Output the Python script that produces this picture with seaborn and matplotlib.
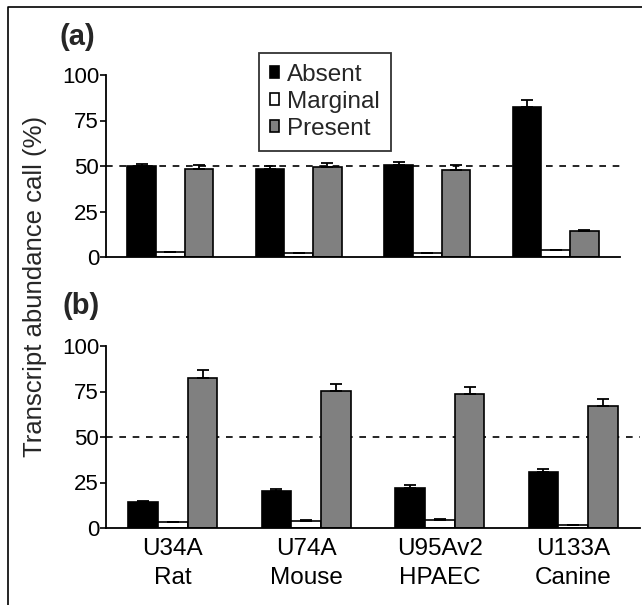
import numpy as np
import pandas as pd
import matplotlib
matplotlib.use("Agg")
import matplotlib.pyplot as plt
import seaborn as sns
from matplotlib.lines import Line2D

sns.set_theme(style="ticks")
plt.rcParams['font.family'] = ['Liberation Sans', 'DejaVu Sans']

arrays = ["U34A\nRat", "U74A\nMouse", "U95Av2\nHPAEC", "U133A\nCanine"]
calls = ["Absent", "Marginal", "Present"]

a_absent = [50.0, 48.6, 50.8, 82.4]
a_marginal = [2.8, 2.2, 2.2, 3.7]
a_present = [48.4, 49.7, 47.9, 14.2]
a_absent_err = [1.0, 1.5, 1.5, 3.6]
a_marginal_err = [0.2, 0.2, 0.2, 0.2]
a_present_err = [2.4, 2.0, 2.4, 0.6]

b_absent = [14.1, 20.4, 21.9, 30.7]
b_marginal = [3.1, 4.0, 4.2, 1.5]
b_present = [82.5, 75.5, 73.4, 67.3]
b_absent_err = [0.5, 1.3, 1.8, 1.6]
b_marginal_err = [0.2, 0.3, 0.5, 0.2]
b_present_err = [4.5, 3.5, 3.8, 3.7]

colors = {"Absent": "#000000", "Marginal": "#ffffff", "Present": "#808080"}

def frame(vals, errs):
    rows = []
    for c, v, e in zip(calls, vals, errs):
        for arr, val, er in zip(arrays, v, e):
            rows.append({"array": arr, "call": c, "value": val, "err": er})
    return pd.DataFrame(rows)

df_a = frame([a_absent, a_marginal, a_present], [a_absent_err, a_marginal_err, a_present_err])
df_b = frame([b_absent, b_marginal, b_present], [b_absent_err, b_marginal_err, b_present_err])

W, H = 642, 605
fig = plt.figure(figsize=(W / 100, H / 100), dpi=100)

ax1 = fig.add_axes([106 / W, 1 - 257 / H, (620 - 106) / W, (257 - 75) / H])
ax2 = fig.add_axes([106 / W, 1 - 528 / H, (640 - 106) / W, (528 - 346) / H])

for ax, df in [(ax1, df_a), (ax2, df_b)]:
    ax.axhline(50, color="black", lw=1.2, ls=(0, (4, 4)), zorder=0)
    sns.barplot(data=df, x="array", y="value", hue="call", order=arrays,
                hue_order=calls, palette=colors, edgecolor="black",
                linewidth=1.2, width=0.67, gap=0, errorbar=None,
                legend=False, ax=ax, zorder=2)
    for cont, c in zip(ax.containers, calls):
        sub = df[df["call"] == c].set_index("array").loc[arrays]
        xs = [p.get_x() + p.get_width() / 2 for p in cont]
        ax.errorbar(xs, sub["value"].values,
                    yerr=[np.zeros(len(xs)), sub["err"].values],
                    fmt="none", ecolor="black", elinewidth=1.3,
                    capsize=4, capthick=1.3, zorder=3)
    ax.set_ylim(0, 100)
    ax.set_xlim(-0.5, 3.5)
    ax.set_yticks([0, 25, 50, 75, 100])
    ax.set_ylabel("")
    ax.set_xlabel("")
    sns.despine(ax=ax)
    for s in ("left", "bottom"):
        ax.spines[s].set_linewidth(1.3)
        ax.spines[s].set_color("black")
    ax.tick_params(axis="y", length=4, width=1.2, labelsize=16, pad=1,
                   colors="black")
    ax.tick_params(axis="x", length=0, labelsize=17.5, pad=7, colors="black")
    ax.set_facecolor("none")

ax1.set_xticklabels([])
for lbl in ax2.get_xticklabels():
    lbl.set_linespacing(1.45)

handles = [ax1.containers[i][0] for i in range(3)]
leg = ax1.legend(handles, calls, loc="upper left",
                 bbox_to_anchor=(259 / W, 1 - 53 / H),
                 bbox_transform=fig.transFigure, borderaxespad=0,
                 fontsize=17.5, handlelength=0.37, handleheight=0.37,
                 handletextpad=0.35, labelspacing=0.2, borderpad=0.45,
                 frameon=True, fancybox=False, edgecolor="black")
leg.get_frame().set_linewidth(1.3)

fig.text(77 / W, 1 - 37 / H, "(a)", fontsize=21, fontweight="bold",
         ha="center", va="center")
fig.text(81 / W, 1 - 306 / H, "(b)", fontsize=21, fontweight="bold",
         ha="center", va="center")
fig.text(35 / W, 1 - 286 / H, "Transcript abundance call (%)", fontsize=18.5,
         rotation=90, ha="center", va="center")

fig.add_artist(Line2D([8 / W, 8 / W, 1], [0, 1 - 7 / H, 1 - 7 / H],
                      transform=fig.transFigure, color="black", lw=1.2))

fig.savefig("out.png", dpi=100)
